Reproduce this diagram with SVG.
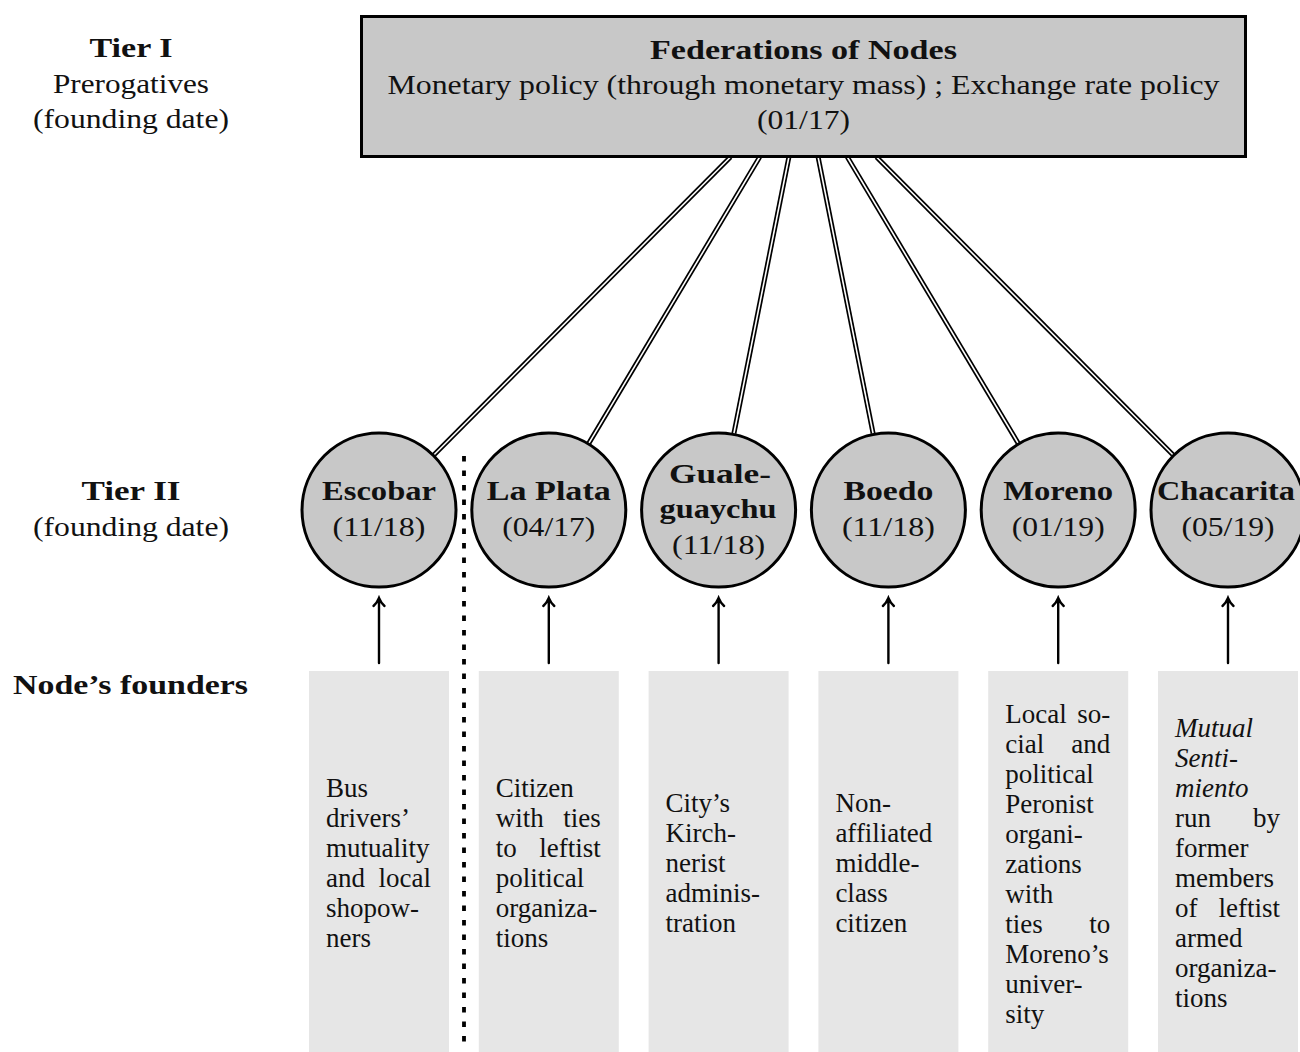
<svg xmlns="http://www.w3.org/2000/svg" width="1300" height="1052" viewBox="0 0 1300 1052">
<style>
text{font-family:"Liberation Serif","Times New Roman",serif;fill:#111}
.b{font-weight:bold}
.big{font-size:28px}
.sm{font-size:27px}
.c{text-anchor:middle}
.e{text-anchor:end}
.it{font-style:italic}
.node{fill:#c8c8c8;stroke:#000;stroke-width:3}
.fbox{fill:#e6e6e6;stroke:none}
.dbl-o{stroke:#000;stroke-width:5;fill:none}
.dbl-i{stroke:#fff;stroke-width:1.6;fill:none}
.arr{stroke:#000;stroke-width:2.4;fill:none;stroke-linecap:round}
</style>
<rect width="1300" height="1052" fill="#fff"/>

<g id="labels">
<text class="big b c" x="131" y="57" textLength="83" lengthAdjust="spacingAndGlyphs">Tier I</text>
<text class="big c" x="131" y="93" textLength="156" lengthAdjust="spacingAndGlyphs">Prerogatives</text>
<text class="big c" x="131" y="128" textLength="196" lengthAdjust="spacingAndGlyphs">(founding date)</text>
<text class="big b c" x="131" y="500" textLength="99" lengthAdjust="spacingAndGlyphs">Tier II</text>
<text class="big c" x="131" y="536" textLength="196" lengthAdjust="spacingAndGlyphs">(founding date)</text>
<text class="big b c" x="130.5" y="694" textLength="235" lengthAdjust="spacingAndGlyphs">Node’s founders</text>
</g>

<g id="founder-boxes">
<rect class="fbox" x="309" y="671" width="140" height="381"/>
<rect class="fbox" x="478.8" y="671" width="140" height="381"/>
<rect class="fbox" x="648.6" y="671" width="140" height="381"/>
<rect class="fbox" x="818.4" y="671" width="140" height="381"/>
<rect class="fbox" x="988.2" y="671" width="140" height="381"/>
<rect class="fbox" x="1158" y="671" width="140" height="381"/>
</g>

<g id="divider">
<line x1="464" y1="456" x2="464" y2="1042" stroke="#000" stroke-width="3.8" stroke-dasharray="5.5 9"/>
</g>

<g id="connectors">
<line class="dbl-o" x1="730.5" y1="157" x2="434.1" y2="454.8"/>
<line class="dbl-i" x1="730.5" y1="157" x2="434.1" y2="454.8"/>
<line class="dbl-o" x1="759.7" y1="157" x2="588.9" y2="443.1"/>
<line class="dbl-i" x1="759.7" y1="157" x2="588.9" y2="443.1"/>
<line class="dbl-o" x1="788.9" y1="157" x2="733.9" y2="433.5"/>
<line class="dbl-i" x1="788.9" y1="157" x2="733.9" y2="433.5"/>
<line class="dbl-o" x1="818.1" y1="157" x2="873.1" y2="433.5"/>
<line class="dbl-i" x1="818.1" y1="157" x2="873.1" y2="433.5"/>
<line class="dbl-o" x1="847.3" y1="157" x2="1018.1" y2="443.1"/>
<line class="dbl-i" x1="847.3" y1="157" x2="1018.1" y2="443.1"/>
<line class="dbl-o" x1="876.5" y1="157" x2="1172.9" y2="454.8"/>
<line class="dbl-i" x1="876.5" y1="157" x2="1172.9" y2="454.8"/>
<path class="arr" d="M379 663V599M373.5 606Q377 603 379 598Q381 603 384.5 606"/>
<path class="arr" d="M548.8 663V599M543.3 606Q546.8 603 548.8 598Q550.8 603 554.3 606"/>
<path class="arr" d="M718.6 663V599M713.1 606Q716.6 603 718.6 598Q720.6 603 724.1 606"/>
<path class="arr" d="M888.4 663V599M882.9 606Q886.4 603 888.4 598Q890.4 603 893.9 606"/>
<path class="arr" d="M1058.2 663V599M1052.7 606Q1056.2 603 1058.2 598Q1060.2 603 1063.7 606"/>
<path class="arr" d="M1228 663V599M1222.5 606Q1226 603 1228 598Q1230 603 1233.5 606"/>
</g>

<g id="federation">
<rect x="361.5" y="16.5" width="884" height="140" fill="#c8c8c8" stroke="#000" stroke-width="3"/>
<text class="big b c" x="803.5" y="59" textLength="307" lengthAdjust="spacingAndGlyphs">Federations of Nodes</text>
<text class="big c" x="803.5" y="94" textLength="832" lengthAdjust="spacingAndGlyphs">Monetary policy (through monetary mass) ; Exchange rate policy</text>
<text class="big c" x="803.5" y="129" textLength="93" lengthAdjust="spacingAndGlyphs">(01/17)</text>
</g>

<g id="escobar">
<circle class="node" cx="379" cy="510" r="77"/>
<text class="big b c" x="379" y="500" textLength="114" lengthAdjust="spacingAndGlyphs">Escobar</text>
<text class="big c" x="379" y="536" textLength="93" lengthAdjust="spacingAndGlyphs">(11/18)</text>
</g>
<g id="la-plata">
<circle class="node" cx="548.8" cy="510" r="77"/>
<text class="big b c" x="548.8" y="500" textLength="124" lengthAdjust="spacingAndGlyphs">La Plata</text>
<text class="big c" x="548.8" y="536" textLength="93" lengthAdjust="spacingAndGlyphs">(04/17)</text>
</g>
<g id="gualeguaychu">
<circle class="node" cx="718.6" cy="510" r="77"/>
<text class="big b c" x="720" y="483" textLength="102" lengthAdjust="spacingAndGlyphs">Guale-</text>
<text class="big b c" x="718" y="518" textLength="117" lengthAdjust="spacingAndGlyphs">guaychu</text>
<text class="big c" x="718.6" y="554" textLength="93" lengthAdjust="spacingAndGlyphs">(11/18)</text>
</g>
<g id="boedo">
<circle class="node" cx="888.4" cy="510" r="77"/>
<text class="big b c" x="888.4" y="500" textLength="90" lengthAdjust="spacingAndGlyphs">Boedo</text>
<text class="big c" x="888.4" y="536" textLength="93" lengthAdjust="spacingAndGlyphs">(11/18)</text>
</g>
<g id="moreno">
<circle class="node" cx="1058.2" cy="510" r="77"/>
<text class="big b c" x="1058.2" y="500" textLength="110" lengthAdjust="spacingAndGlyphs">Moreno</text>
<text class="big c" x="1058.2" y="536" textLength="93" lengthAdjust="spacingAndGlyphs">(01/19)</text>
</g>
<g id="chacarita">
<circle class="node" cx="1228" cy="510" r="77"/>
<text class="big b c" x="1226" y="500" textLength="138" lengthAdjust="spacingAndGlyphs">Chacarita</text>
<text class="big c" x="1228" y="536" textLength="93" lengthAdjust="spacingAndGlyphs">(05/19)</text>
</g>

<g id="founders-escobar">
<text class="sm" x="326" y="797">Bus</text>
<text class="sm" x="326" y="827">drivers’</text>
<text class="sm" x="326" y="857">mutuality</text>
<text class="sm" x="326" y="887">and</text><text class="sm e" x="431" y="887">local</text>
<text class="sm" x="326" y="917">shopow-</text>
<text class="sm" x="326" y="947">ners</text>
</g>
<g id="founders-la-plata">
<text class="sm" x="495.8" y="797">Citizen</text>
<text class="sm" x="495.8" y="827">with</text><text class="sm e" x="600.8" y="827">ties</text>
<text class="sm" x="495.8" y="857">to</text><text class="sm e" x="600.8" y="857">leftist</text>
<text class="sm" x="495.8" y="887">political</text>
<text class="sm" x="495.8" y="917">organiza-</text>
<text class="sm" x="495.8" y="947">tions</text>
</g>
<g id="founders-gualeguaychu">
<text class="sm" x="665.6" y="812">City’s</text>
<text class="sm" x="665.6" y="842">Kirch-</text>
<text class="sm" x="665.6" y="872">nerist</text>
<text class="sm" x="665.6" y="902">adminis-</text>
<text class="sm" x="665.6" y="932">tration</text>
</g>
<g id="founders-boedo">
<text class="sm" x="835.4" y="812">Non-</text>
<text class="sm" x="835.4" y="842">affiliated</text>
<text class="sm" x="835.4" y="872">middle-</text>
<text class="sm" x="835.4" y="902">class</text>
<text class="sm" x="835.4" y="932">citizen</text>
</g>
<g id="founders-moreno">
<text class="sm" x="1005.2" y="723">Local</text><text class="sm e" x="1110.2" y="723">so-</text>
<text class="sm" x="1005.2" y="753">cial</text><text class="sm e" x="1110.2" y="753">and</text>
<text class="sm" x="1005.2" y="783">political</text>
<text class="sm" x="1005.2" y="813">Peronist</text>
<text class="sm" x="1005.2" y="843">organi-</text>
<text class="sm" x="1005.2" y="873">zations</text>
<text class="sm" x="1005.2" y="903">with</text>
<text class="sm" x="1005.2" y="933">ties</text><text class="sm e" x="1110.2" y="933">to</text>
<text class="sm" x="1005.2" y="963">Moreno’s</text>
<text class="sm" x="1005.2" y="993">univer-</text>
<text class="sm" x="1005.2" y="1023">sity</text>
</g>
<g id="founders-chacarita">
<text class="sm it" x="1175" y="737">Mutual</text>
<text class="sm it" x="1175" y="767">Senti-</text>
<text class="sm it" x="1175" y="797">miento</text>
<text class="sm" x="1175" y="827">run</text><text class="sm e" x="1280" y="827">by</text>
<text class="sm" x="1175" y="857">former</text>
<text class="sm" x="1175" y="887">members</text>
<text class="sm" x="1175" y="917">of</text><text class="sm e" x="1280" y="917">leftist</text>
<text class="sm" x="1175" y="947">armed</text>
<text class="sm" x="1175" y="977">organiza-</text>
<text class="sm" x="1175" y="1007">tions</text>
</g>
</svg>
